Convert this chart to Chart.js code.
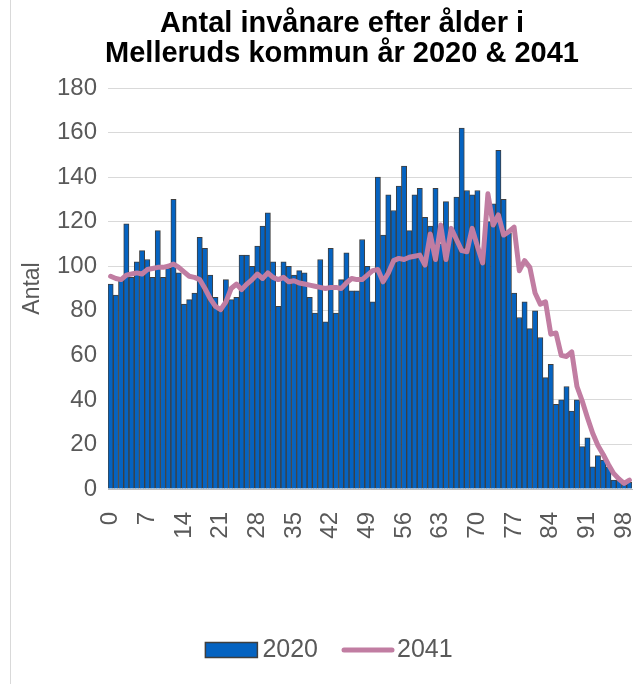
<!DOCTYPE html>
<html>
<head>
<meta charset="utf-8">
<script src="https://cdn.jsdelivr.net/npm/chart.js@4/dist/chart.umd.min.js"></script>
<style>
html,body{margin:0;padding:0;background:#fff;overflow:hidden;width:642px;height:684px;}
#wrap{position:absolute;left:0;top:0;width:684px;height:684px;}
</style>
</head>
<body>
<div id="wrap"><canvas id="c" width="684" height="684"></canvas></div>
<script>
const titleLines = ['Antal invånare efter ålder i', 'Melleruds kommun år 2020 & 2041'];
const yAxisTitle = 'Antal';
const seriesNames = ['2020', '2041'];
const ages = Array.from({length: 100}, (_, i) => String(i));
const tickEvery = 7;
const values2020 = [
  92, 87, 94, 119, 95, 102, 107, 103, 95, 116,
  95, 99, 130, 97, 83, 85, 88, 113, 108, 96,
  86, 80, 94, 85, 86, 105, 105, 100, 109, 118,
  124, 102, 82, 102, 100, 96, 98, 97, 86, 79,
  103, 75, 108, 79, 94, 106, 89, 89, 112, 100,
  84, 140, 114, 132, 125, 136, 145, 116, 132, 135,
  122, 118, 135, 110, 129, 117, 131, 162, 134, 132,
  134, 104, 120, 128, 152, 130, 115, 88, 77, 84,
  72, 80, 68, 50, 56, 38, 40, 46, 35, 40,
  19, 23, 10, 15, 13, 10, 4, 4, 2, 3
];
const values2041 = [
  95.5, 94.5, 94, 96, 96.5, 97, 96.5, 98.5, 99, 99.5,
  99.5, 100, 101, 99.5, 97.5, 95.5, 95, 94, 90, 85.5,
  82, 80.5, 84, 90, 92, 89.5, 92, 94, 96.5, 94.5,
  97, 95, 94, 95, 93, 93.5, 92.5, 92, 91.5, 91,
  90.5, 90, 90.5, 90.5, 90, 92.5, 94.5, 94, 94, 96,
  98, 98.5, 93, 97, 102.5, 103.5, 103, 104, 104.5, 105,
  100.5, 114.5, 103, 118.5, 103, 117, 112, 107, 106.5, 117,
  109, 101.5, 132.5, 118.5, 123, 114, 115.5, 117.5, 98, 102.5,
  99.5, 88, 83, 84, 69.5, 70, 60, 59.5, 61.5, 46,
  39.5, 32, 25, 19.5, 15.5, 11, 7, 4.5, 2.5, 4
];

const yMin = 0, yMax = 180, yStep = 20;
const barColor = '#0563C1';
const barBorder = '#3F3F3F';
const lineColor = '#C17DA2';
const textColor = '#595959';
const gridColor = '#D9D9D9';
const FONT = "'Liberation Sans', Arial, sans-serif";
const TICK_FONT = 24;

const leftBorder = {
  id: 'leftBorder',
  afterDraw(chart) {
    const ctx = chart.ctx;
    ctx.save();
    ctx.strokeStyle = '#D9D9D9';
    ctx.lineWidth = 1;
    ctx.beginPath();
    ctx.moveTo(10.5, 0);
    ctx.lineTo(10.5, chart.height);
    ctx.stroke();
    ctx.restore();
  }
};

// legend drawn below the x axis
const bottomLegend = {
  id: 'bottomLegend',
  afterDraw(chart) {
    const ctx = chart.ctx;
    ctx.save();
    ctx.font = '25px ' + FONT;
    ctx.textBaseline = 'middle';
    ctx.textAlign = 'left';
    const sw = 52, gapText = 5, gapItem = 24;
    const w0 = ctx.measureText(seriesNames[0]).width;
    const w1 = ctx.measureText(seriesNames[1]).width;
    const total = sw + gapText + w0 + gapItem + sw + gapText + w1;
    const cx = 330, cy = 650;
    let x = cx - total / 2;
    ctx.fillStyle = barColor;
    ctx.strokeStyle = barBorder;
    ctx.lineWidth = 1.5;
    ctx.fillRect(x, cy - 7.5, sw, 15);
    ctx.strokeRect(x, cy - 7.5, sw, 15);
    x += sw + gapText;
    ctx.fillStyle = textColor;
    ctx.fillText(seriesNames[0], x, cy);
    x += w0 + gapItem;
    ctx.strokeStyle = lineColor;
    ctx.lineWidth = 5;
    ctx.lineCap = 'round';
    ctx.beginPath();
    ctx.moveTo(x + 2, cy);
    ctx.lineTo(x + sw - 2, cy);
    ctx.stroke();
    x += sw + gapText - 2;
    ctx.fillText(seriesNames[1], x, cy);
    ctx.restore();
  }
};

new Chart(document.getElementById('c'), {
  data: {
    labels: ages,
    datasets: [
      {
        type: 'line', label: seriesNames[1], data: values2041,
        borderColor: lineColor, backgroundColor: lineColor, borderWidth: 5,
        pointRadius: 0, tension: 0, order: 0, borderJoinStyle: 'round', borderCapStyle: 'round'
      },
      {
        type: 'bar', label: seriesNames[0], data: values2020,
        backgroundColor: barColor, borderColor: barBorder, borderWidth: 1,
        categoryPercentage: 1, barPercentage: 1, order: 1
      }
    ]
  },
  options: {
    responsive: false,
    animation: false,
    layout: { padding: { top: 9, bottom: 0, left: 0, right: 0 } },
    plugins: {
      tooltip: { enabled: false },
      legend: { display: false },
      title: {
        display: true, text: titleLines, color: '#000000',
        font: { family: FONT, size: 29, weight: 'bold', lineHeight: 30 / 29 },
        padding: { top: 0, bottom: 19 }
      }
    },
    scales: {
      x: {
        type: 'category',
        offset: true,
        grid: { display: false, drawTicks: false },
        border: { display: true, color: '#BFBFBF', width: 1 },
        ticks: {
          autoSkip: false, maxRotation: 90, minRotation: 90, padding: 23,
          color: textColor, font: { family: FONT, size: TICK_FONT },
          callback: (v, i) => (i % tickEvery === 0 ? ages[i] : '')
        },
        afterFit: (s) => { s.height = 195; }
      },
      y: {
        min: yMin, max: yMax,
        grid: { color: gridColor, lineWidth: 1, drawTicks: false },
        border: { display: false },
        ticks: { stepSize: yStep, padding: 11, color: textColor, font: { family: FONT, size: TICK_FONT } },
        title: { display: true, text: yAxisTitle, color: textColor, font: { family: FONT, size: 23 }, padding: { top: 19, bottom: 0 } },
        afterFit: (s) => { s.width = 108; }
      },
      y2: {
        position: 'right', display: true,
        grid: { display: false, drawTicks: false }, border: { display: false },
        ticks: { display: false },
        afterFit: (s) => { s.width = 52; }
      }
    }
  },
  plugins: [leftBorder, bottomLegend]
});
</script>
</body>
</html>
